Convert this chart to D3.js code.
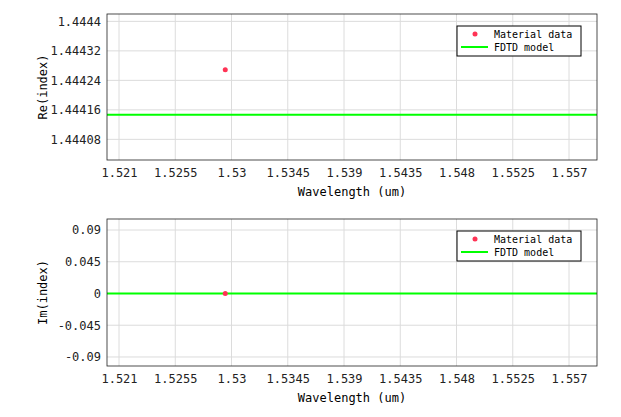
<!DOCTYPE html>
<html><head><meta charset="utf-8">
<script src="https://cdn.jsdelivr.net/npm/d3@7"></script>
<style>body{margin:0;background:#fff}text{font-family:"DejaVu Sans Mono",monospace;font-size:12px}</style>
</head><body><svg id="c" width="621" height="417"></svg>
<script>
const xTicks = [1.521, 1.5255, 1.53, 1.5345, 1.539, 1.5435, 1.548, 1.5525, 1.557];
const xTickLabels = ["1.521", "1.5255", "1.53", "1.5345", "1.539", "1.5435", "1.548", "1.5525", "1.557"];
const reTicks = [1.44408, 1.44416, 1.44424, 1.44432, 1.4444];
const imTicks = [-0.09, -0.045, 0, 0.045, 0.09];
const matWl = [1.5295];
const matRe = [1.444269];
const matIm = [0];
const fdtdWl = [1.52004, 1.55924];
const fdtdRe = [1.444147, 1.444147];
const fdtdIm = [0, 0];

const svg = d3.select("#c");
const left = 107, right = 597;
const x = d3.scaleLinear().domain([1.52004, 1.55924]).range([left, right]);

function panel(top, bottom, yDomain, yTicks, yLabel, matY, fdtdY) {
  const y = d3.scaleLinear().domain(yDomain).range([bottom, top]);
  const g = svg.append("g");
  g.selectAll(".gx").data(xTicks).join("line").attr("x1", d => x(d)).attr("x2", d => x(d))
    .attr("y1", top).attr("y2", bottom).attr("stroke", "#dcdcdc");
  g.selectAll(".gy").data(yTicks).join("line").attr("y1", d => y(d)).attr("y2", d => y(d))
    .attr("x1", left).attr("x2", right).attr("stroke", "#dcdcdc");
  g.append("g").attr("transform", `translate(0,${bottom})`)
    .call(d3.axisBottom(x).tickValues(xTicks).tickFormat((d, i) => xTickLabels[i]).tickSize(0).tickPadding(8))
    .call(a => a.select(".domain").remove());
  g.append("g").attr("transform", `translate(${left},0)`)
    .call(d3.axisLeft(y).tickValues(yTicks).tickFormat(d => String(+d.toFixed(6))).tickSize(0).tickPadding(6))
    .call(a => a.select(".domain").remove());
  g.selectAll(".tick text").attr("fill", "#222").style("font-size", "12px");
  const line = d3.line().x(d => x(d[0])).y(d => y(d[1]));
  g.append("path").datum(fdtdWl.map((w, i) => [w, fdtdY[i]])).attr("d", line)
    .attr("stroke", "#00ff00").attr("stroke-width", 2).attr("fill", "none");
  g.selectAll(".pt").data(matWl.map((w, i) => [w, matY[i]])).join("circle")
    .attr("cx", d => x(d[0])).attr("cy", d => y(d[1])).attr("r", 2.5).attr("fill", "#ff3355");
  g.append("rect").attr("x", left).attr("y", top).attr("width", right - left).attr("height", bottom - top)
    .attr("fill", "none").attr("stroke", "#222").attr("stroke-width", 0.8);
  g.append("text").attr("x", (left + right) / 2).attr("y", bottom + 36).attr("text-anchor", "middle").text("Wavelength (um)");
  g.append("text").attr("transform", `translate(${left - 60},${(top + bottom) / 2}) rotate(-90)`)
    .attr("text-anchor", "middle").text(yLabel);
  const lx = 457, ly = top + 12;
  g.append("rect").attr("x", lx).attr("y", ly).attr("width", 124).attr("height", 30).attr("fill", "#fff").attr("stroke", "#000");
  g.append("circle").attr("cx", lx + 18).attr("cy", ly + 8).attr("r", 2.5).attr("fill", "#ff3355");
  g.append("line").attr("x1", lx + 4).attr("x2", lx + 31).attr("y1", ly + 21).attr("y2", ly + 21).attr("stroke", "#00ff00").attr("stroke-width", 2);
  g.append("text").attr("x", lx + 37).attr("y", ly + 12).style("font-size", "10px").text("Material data");
  g.append("text").attr("x", lx + 37).attr("y", ly + 25).style("font-size", "10px").text("FDTD model");
}

panel(14, 160, [1.444024, 1.44442], reTicks, "Re(index)", matRe, fdtdRe);
panel(219, 366, [-0.1028, 0.1056], imTicks, "Im(index)", matIm, fdtdIm);
</script></body></html>
